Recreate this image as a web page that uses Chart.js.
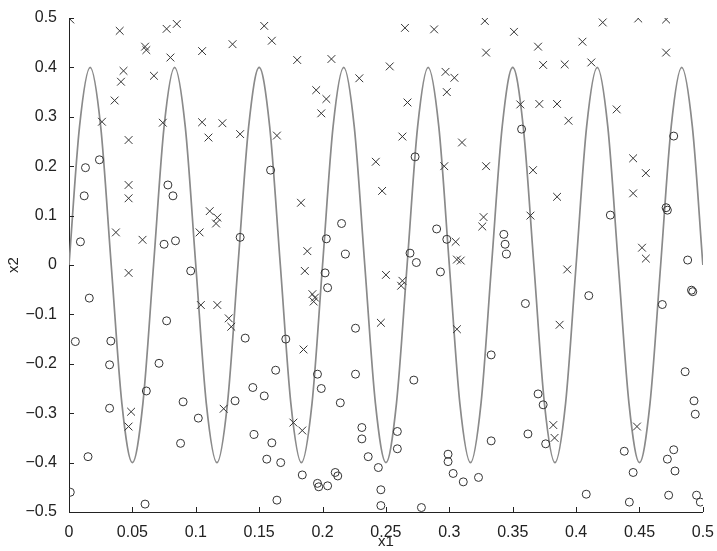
<!DOCTYPE html>
<html>
<head>
<meta charset="utf-8">
<script src="https://cdn.jsdelivr.net/npm/chart.js@4.4.1/dist/chart.umd.min.js"></script>
<style>
  html, body { margin: 0; padding: 0; background: #fff; }
  #wrap { width: 717px; height: 551px; }
</style>
</head>
<body>
<div id="wrap"><canvas id="chart" width="717" height="551"></canvas></div>
<script>
// Tick labels
const xTickValues = [0, 0.05, 0.1, 0.15, 0.2, 0.25, 0.3, 0.35, 0.4, 0.45, 0.5];
const xTickLabels = ['0', '0.05', '0.1', '0.15', '0.2', '0.25', '0.3', '0.35', '0.4', '0.45', '0.5'];
const yTickValues = [-0.5, -0.4, -0.3, -0.2, -0.1, 0, 0.1, 0.2, 0.3, 0.4, 0.5];
const yTickLabels = ['\u22120.5', '\u22120.4', '\u22120.3', '\u22120.2', '\u22120.1', '0', '0.1', '0.2', '0.3', '0.4', '0.5'];

// Boundary curve, every 1/120 in x1
const curveX = [0, .0083, .0167, .025, .0333, .0417, .05, .0583, .0667, .075, .0833, .0917, .1, .1083, .1167, .125,
  .1333, .1417, .15, .1583, .1667, .175, .1833, .1917, .2, .2083, .2167, .225, .2333, .2417, .25, .2583, .2667, .275,
  .2833, .2917, .3, .3083, .3167, .325, .3333, .3417, .35, .3583, .3667, .375, .3833, .3917, .4, .4083, .4167, .425,
  .4333, .4417, .45, .4583, .4667, .475, .4833, .4917, .5];
const curveY = [0, .28, .4, .28, 0, -.28, -.4, -.28, 0, .28, .4, .28, 0, -.28, -.4, -.28,
  0, .28, .4, .28, 0, -.28, -.4, -.28, 0, .28, .4, .28, 0, -.28, -.4, -.28,
  0, .28, .4, .28, 0, -.28, -.4, -.28, 0, .28, .4, .28, 0, -.28, -.4, -.28,
  0, .28, .4, .28, 0, -.28, -.4, -.28, 0, .28, .4, .28, 0];

// Class "x" samples
const crossX1 = [0.001, 0.026, 0.040, 0.043, 0.041, 0.036, 0.047, 0.060, 0.061, 0.067, 0.074, 0.077, 0.085, 0.080,
  0.105, 0.105, 0.121, 0.110, 0.129, 0.154, 0.160, 0.180, 0.207, 0.229, 0.253, 0.195, 0.203, 0.199, 0.135, 0.164,
  0.242, 0.265, 0.288, 0.328, 0.351, 0.370, 0.329, 0.374, 0.297, 0.304, 0.298, 0.267, 0.263, 0.310, 0.296, 0.356,
  0.371, 0.385, 0.329, 0.366, 0.421, 0.449, 0.471, 0.405, 0.471, 0.391, 0.412, 0.394, 0.432, 0.445, 0.455, 0.047,
  0.047, 0.037, 0.058, 0.047, 0.103, 0.111, 0.117, 0.116, 0.104, 0.117, 0.126, 0.128, 0.247, 0.183, 0.188, 0.186,
  0.250, 0.192, 0.194, 0.193, 0.246, 0.385, 0.364, 0.327, 0.326, 0.305, 0.306, 0.309, 0.263, 0.262, 0.306, 0.445,
  0.452, 0.455, 0.393, 0.387, 0.049, 0.047, 0.122, 0.185, 0.177, 0.184, 0.382, 0.383, 0.448];
const crossX2 = [0.497, 0.290, 0.474, 0.393, 0.371, 0.333, 0.253, 0.442, 0.435, 0.383, 0.288, 0.478, 0.488, 0.420,
  0.433, 0.289, 0.287, 0.258, 0.447, 0.484, 0.454, 0.415, 0.417, 0.378, 0.402, 0.354, 0.336, 0.307, 0.265, 0.262,
  0.209, 0.480, 0.477, 0.494, 0.472, 0.442, 0.430, 0.405, 0.391, 0.379, 0.350, 0.329, 0.260, 0.248, 0.200, 0.325,
  0.326, 0.326, 0.200, 0.192, 0.491, 0.499, 0.497, 0.452, 0.430, 0.406, 0.410, 0.292, 0.315, 0.216, 0.186, 0.162,
  0.135, 0.066, 0.051, -0.016, 0.066, 0.109, 0.096, 0.084, -0.081, -0.081, -0.108, -0.125, 0.150, 0.126, 0.028, -0.012,
  -0.020, -0.059, -0.066, -0.074, -0.117, 0.138, 0.100, 0.097, 0.078, 0.047, 0.011, 0.009, -0.032, -0.042, -0.130, 0.145,
  0.035, 0.013, -0.009, -0.121, -0.297, -0.327, -0.291, -0.171, -0.319, -0.335, -0.324, -0.350, -0.327];

// Class "o" samples
const circleX1 = [0.013, 0.024, 0.159, 0.273, 0.357, 0.477, 0.012, 0.078, 0.082, 0.009, 0.075, 0.084, 0.096, 0.016,
  0.077, 0.005, 0.033, 0.215, 0.135, 0.203, 0.218, 0.202, 0.204, 0.226, 0.139, 0.171, 0.290, 0.343, 0.344, 0.345,
  0.298, 0.269, 0.274, 0.293, 0.360, 0.471, 0.472, 0.427, 0.488, 0.491, 0.492, 0.410, 0.468, 0.032, 0.071, 0.061,
  0.032, 0.090, 0.102, 0.088, 0.015, 0.001, 0.060, 0.163, 0.196, 0.199, 0.226, 0.145, 0.154, 0.214, 0.131, 0.146,
  0.160, 0.231, 0.231, 0.156, 0.167, 0.236, 0.244, 0.184, 0.210, 0.212, 0.196, 0.197, 0.204, 0.246, 0.164, 0.246,
  0.333, 0.272, 0.259, 0.259, 0.333, 0.299, 0.299, 0.303, 0.311, 0.323, 0.278, 0.362, 0.370, 0.374, 0.376, 0.486,
  0.493, 0.494, 0.438, 0.445, 0.477, 0.472, 0.478, 0.408, 0.442, 0.473, 0.495, 0.498];
const circleX2 = [0.197, 0.213, 0.192, 0.219, 0.275, 0.261, 0.140, 0.162, 0.140, 0.047, 0.042, 0.049, -0.012, -0.067,
  -0.113, -0.155, -0.154, 0.084, 0.056, 0.053, 0.022, -0.016, -0.046, -0.128, -0.148, -0.150, 0.073, 0.062, 0.042, 0.022,
  0.052, 0.024, 0.005, -0.014, -0.078, 0.116, 0.111, 0.101, 0.010, -0.051, -0.054, -0.062, -0.080, -0.202, -0.199, -0.255,
  -0.290, -0.277, -0.310, -0.361, -0.388, -0.460, -0.484, -0.213, -0.221, -0.250, -0.221, -0.248, -0.265, -0.279, -0.275, -0.343,
  -0.360, -0.329, -0.352, -0.393, -0.400, -0.388, -0.410, -0.425, -0.420, -0.427, -0.442, -0.449, -0.447, -0.455, -0.476, -0.487,
  -0.182, -0.233, -0.337, -0.372, -0.356, -0.383, -0.398, -0.422, -0.439, -0.430, -0.491, -0.342, -0.261, -0.283, -0.362, -0.216,
  -0.275, -0.302, -0.377, -0.420, -0.374, -0.393, -0.417, -0.464, -0.480, -0.466, -0.466, -0.480];

function toPoints(xs, ys) {
  return xs.map((x, i) => ({ x: x, y: ys[i] }));
}

// Small tick marks pointing into the plot
const innerTicks = {
  id: 'innerTicks',
  afterDraw(chart) {
    const ctx = chart.ctx;
    const xs = chart.scales.x, ys = chart.scales.y;
    ctx.save();
    ctx.strokeStyle = '#222';
    ctx.lineWidth = 1;
    ctx.beginPath();
    xTickValues.forEach(v => {
      const px = Math.round(xs.getPixelForValue(v)) + 0.5;
      ctx.moveTo(px, ys.bottom);
      ctx.lineTo(px, ys.bottom - 5);
    });
    yTickValues.forEach(v => {
      const py = Math.round(ys.getPixelForValue(v)) + 0.5;
      ctx.moveTo(xs.left, py);
      ctx.lineTo(xs.left + 5, py);
    });
    ctx.stroke();
    ctx.restore();
  }
};

const tickFont = { family: '"Liberation Sans", Arial, sans-serif', size: 16 };
const titleFont = { family: '"Liberation Sans", Arial, sans-serif', size: 15 };

new Chart(document.getElementById('chart'), {
  type: 'scatter',
  data: {
    datasets: [{
      label: 'o',
      data: toPoints(circleX1, circleX2),
      pointStyle: 'circle',
      radius: 4,
      borderColor: '#333',
      backgroundColor: 'rgba(255,255,255,0)',
      borderWidth: 1,
      order: 1
    }, {
      label: 'x',
      data: toPoints(crossX1, crossX2),
      pointStyle: 'crossRot',
      radius: 5.5,
      borderColor: '#333',
      borderWidth: 1,
      order: 2
    }, {
      label: 'boundary',
      data: toPoints(curveX, curveY),
      showLine: true,
      pointRadius: 0,
      borderColor: '#8a8a8a',
      borderWidth: 1.7,
      cubicInterpolationMode: 'monotone',
      order: 3
    }]
  },
  options: {
    responsive: false,
    animation: false,
    layout: { padding: { top: 18, right: 10, left: 0, bottom: 0 } },
    plugins: {
      legend: { display: false },
      tooltip: { enabled: false }
    },
    scales: {
      x: {
        type: 'linear',
        min: 0,
        max: 0.5,
        afterFit: s => { s.height = 39; },
        afterBuildTicks: s => { s.ticks = xTickValues.map(v => ({ value: v })); },
        grid: { display: false },
        border: { display: true, color: '#222', width: 1 },
        ticks: {
          padding: 3,
          color: '#222',
          font: tickFont,
          maxRotation: 0,
          callback: (v, i) => xTickLabels[i]
        },
        title: { display: true, text: 'x1', color: '#222', font: titleFont, padding: { top: 0, bottom: 0 } }
      },
      y: {
        type: 'linear',
        min: -0.5,
        max: 0.5,
        afterFit: s => { s.width = 69; },
        afterBuildTicks: s => { s.ticks = yTickValues.map(v => ({ value: v })); },
        grid: { display: false },
        border: { display: true, color: '#222', width: 1 },
        ticks: {
          padding: 4,
          color: '#222',
          font: tickFont,
          callback: (v, i) => yTickLabels[i]
        },
        title: { display: true, text: 'x2', color: '#222', font: titleFont, padding: { top: 5, bottom: 0 } }
      }
    }
  },
  plugins: [innerTicks]
});
</script>
</body>
</html>
